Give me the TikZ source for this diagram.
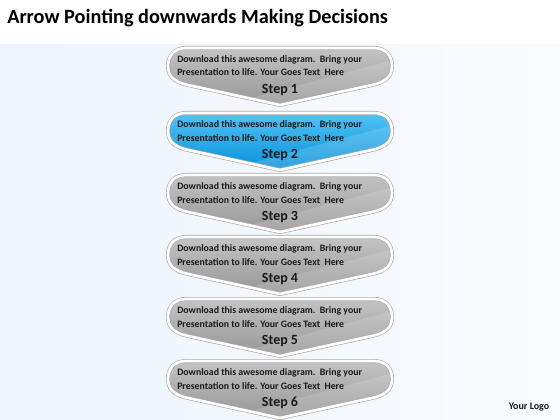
\documentclass[tikz,border=0pt]{standalone}
\usepackage{fontspec}
\setmainfont{Carlito}
\usepackage{tikz}

\definecolor{bgblue}{RGB}{236,244,252}
\definecolor{stepgrayA}{RGB}{196,196,196}
\definecolor{stepgrayB}{RGB}{150,150,150}
\definecolor{stepblueA}{RGB}{80,195,245}
\definecolor{stepblueB}{RGB}{8,145,220}
\definecolor{rimgray}{RGB}{170,170,170}
\definecolor{textdark}{RGB}{25,25,25}

\tikzset{
  graystep/.style={top color=stepgrayA, bottom color=stepgrayB},
  bluestep/.style={top color=stepblueA, bottom color=stepblueB},
  steprim/.style={draw=rimgray, line width=0.5pt, double=white, double distance=2pt},
  steptext/.style={anchor=west, inner sep=0.75pt, text=textdark, font=\fontsize{7.35}{8}\selectfont\bfseries},
  steplabel/.style={inner sep=0.75pt, text=textdark, font=\fontsize{10.5}{12}\selectfont\bfseries}
}

% arrow shape, top edge at y=0
\newcommand{\stepshape}{(186,0) -- (374,0) .. controls (386,0) and (392,8) .. (392,18) .. controls (392,28) and (386,34) .. (372,37) -- (280,57) -- (188,37) .. controls (174,34) and (168,28) .. (168,18) .. controls (168,8) and (174,0) .. (186,0) -- cycle}
\newcommand{\stepsheen}{(225,57) -- (400,10) -- (400,60) -- cycle}

\begin{document}
\begin{tikzpicture}[x=0.75pt,y=0.75pt,yscale=-1,xscale=1]
\useasboundingbox (0,0) rectangle (560,420);

%Background
\fill[white] (0,0) rectangle (560,45);
\fill[left color=bgblue, right color=bgblue!30!white] (0,45) rectangle (560,420);

% Text Node
\node[anchor=west, inner sep=0.75pt, text=black, font=\fontsize{15.2}{18}\selectfont\bfseries] (title) at (6,18) {Arrow Pointing downwards Making Decisions};

%Shape: Step 1
\begin{scope}[shift={(0,48)}]
\shade[graystep] \stepshape;
\begin{scope}
\clip \stepshape;
\fill[white, opacity=0.15] \stepsheen;
\end{scope}
\draw[steprim] \stepshape;
\end{scope}
%Shape: Step 2
\begin{scope}[shift={(0,113)}]
\shade[bluestep] \stepshape;
\begin{scope}
\clip \stepshape;
\fill[white, opacity=0.15] \stepsheen;
\end{scope}
\draw[steprim] \stepshape;
\end{scope}
%Shape: Step 3
\begin{scope}[shift={(0,175)}]
\shade[graystep] \stepshape;
\begin{scope}
\clip \stepshape;
\fill[white, opacity=0.15] \stepsheen;
\end{scope}
\draw[steprim] \stepshape;
\end{scope}
%Shape: Step 4
\begin{scope}[shift={(0,237)}]
\shade[graystep] \stepshape;
\begin{scope}
\clip \stepshape;
\fill[white, opacity=0.15] \stepsheen;
\end{scope}
\draw[steprim] \stepshape;
\end{scope}
%Shape: Step 5
\begin{scope}[shift={(0,299)}]
\shade[graystep] \stepshape;
\begin{scope}
\clip \stepshape;
\fill[white, opacity=0.15] \stepsheen;
\end{scope}
\draw[steprim] \stepshape;
\end{scope}
%Shape: Step 6
\begin{scope}[shift={(0,361)}]
\shade[graystep] \stepshape;
\begin{scope}
\clip \stepshape;
\fill[white, opacity=0.15] \stepsheen;
\end{scope}
\draw[steprim] \stepshape;
\end{scope}

% Text Node
\node[steptext] (texta1) at (176,60) {Download this awesome diagram.\ \ Bring your};
\node[steptext] (textb1) at (176,72) {Presentation to life. Your Goes Text\ \ Here};
\node[steplabel] (step1) at (280,90) {Step 1};
% Text Node
\node[steptext] (texta2) at (176,125) {Download this awesome diagram.\ \ Bring your};
\node[steptext] (textb2) at (176,138) {Presentation to life. Your Goes Text\ \ Here};
\node[steplabel] (step2) at (280,155) {Step 2};
% Text Node
\node[steptext] (texta3) at (176,187) {Download this awesome diagram.\ \ Bring your};
\node[steptext] (textb3) at (176,200) {Presentation to life. Your Goes Text\ \ Here};
\node[steplabel] (step3) at (280,217) {Step 3};
% Text Node
\node[steptext] (texta4) at (176,249) {Download this awesome diagram.\ \ Bring your};
\node[steptext] (textb4) at (176,262) {Presentation to life. Your Goes Text\ \ Here};
\node[steplabel] (step4) at (280,279) {Step 4};
% Text Node
\node[steptext] (texta5) at (176,311) {Download this awesome diagram.\ \ Bring your};
\node[steptext] (textb5) at (176,324) {Presentation to life. Your Goes Text\ \ Here};
\node[steplabel] (step5) at (280,341) {Step 5};
% Text Node
\node[steptext] (texta6) at (176,373) {Download this awesome diagram.\ \ Bring your};
\node[steptext] (textb6) at (176,386) {Presentation to life. Your Goes Text\ \ Here};
\node[steplabel] (step6) at (280,403) {Step 6};

% Text Node
\node[inner sep=0.75pt, text=textdark, font=\fontsize{7.5}{9}\selectfont\bfseries] (logo) at (529,407) {Your Logo};

\end{tikzpicture}
\end{document}
